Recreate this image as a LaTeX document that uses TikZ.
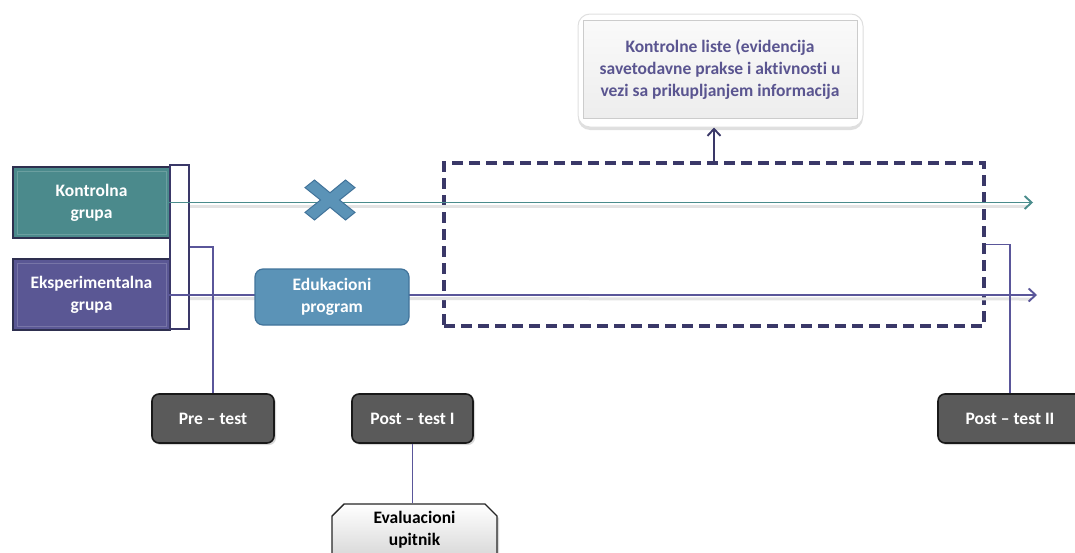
\documentclass[tikz,border=0pt]{standalone}
\usepackage{fontspec}
\setmainfont{Carlito}[Ligatures=NoCommon]
\usetikzlibrary{arrows.meta,shapes.misc,calc,shadows}
\definecolor{tealbox}{HTML}{4B8A8C}
\definecolor{purplebox}{HTML}{5A5794}
\definecolor{boxborder}{HTML}{2E2F4F}
\definecolor{edufill}{HTML}{5B93B7}
\definecolor{eduborder}{HTML}{41739A}
\definecolor{grayfill}{HTML}{5A5A5A}
\definecolor{navy}{HTML}{3A3868}
\definecolor{linepurple}{HTML}{5A569A}
\definecolor{lineteal}{HTML}{4A8C8C}
\definecolor{textpurple}{HTML}{5A5590}
\tikzset{
  x=1pt,y=-1pt,
  group/.style={draw=boxborder,line width=2pt,minimum width=157pt,minimum height=71pt,inner sep=0pt,
    text=white,font=\bfseries\fontsize{17.5}{22}\selectfont,align=center},
  testbox/.style={draw=black!90,line width=1.6pt,fill=grayfill,rounded corners=7pt,minimum height=49pt,
    inner sep=0pt,text=white,font=\bfseries\fontsize{17.5}{20}\selectfont,
    drop shadow={shadow xshift=2pt,shadow yshift=-2pt,opacity=0.3}},
  edubox/.style={draw=eduborder,line width=1.2pt,fill=edufill,rounded corners=8pt,minimum width=154pt,
    minimum height=56pt,inner sep=0pt,text=white,font=\bfseries\fontsize{17.5}{22}\selectfont,align=center},
  conn/.style={linepurple,line width=1.9pt},
  flowarrow/.style={line width=1.9pt,-{Straight Barb[length=7pt,width=13pt,line width=1.9pt]}},
  shadowline/.style={gray!22,line width=3pt},
}
\begin{document}
\begin{tikzpicture}
\useasboundingbox (0,0) rectangle (1075,552);
\clip (0,0) rectangle (1075,552);
% dashed box
\node[draw=navy,line width=3.2pt,dash pattern=on 11pt off 6pt,minimum width=540pt,minimum height=163pt,inner sep=0pt] (db) at (714,244.5) {};
% group boxes
\node[group,fill=tealbox] (kg) at (91.5,202.5) {Kontrolna\\grupa};
\node[group,fill=purplebox] (eg) at (91.5,294.5) {Eksperimentalna\\grupa};
% bevel hints
\draw[white,opacity=0.18,line width=1pt] ($(kg.south west)+(5,-5)$) rectangle ($(kg.north east)+(-5,5)$);
\draw[white,opacity=0.18,line width=1pt] ($(eg.south west)+(5,-5)$) rectangle ($(eg.north east)+(-5,5)$);
% end coordinates
\coordinate (tend) at (1033,202.5);
\coordinate (pend) at (1037,295);
% shadows of lines
\draw[shadowline] ($(kg.east)+(0,4)$) -- ($(tend)+(-6,4)$);
\draw[shadowline] ($(eg.east)+(0,4)$) -- ($(pend)+(-6,4)$);
% flow lines
\draw[flowarrow,lineteal] (kg.east) -- (tend);
\draw[flowarrow,linepurple] (eg.east |- pend) -- (pend);
% bracket
\node[draw=navy,fill=white,line width=1.6pt,minimum width=19pt,minimum height=164pt,inner sep=0pt] (br) at (179.5,247) {};
\draw[lineteal,line width=1.9pt] (br.west |- kg.east) -- (br.east |- kg.east);
\draw[linepurple,line width=1.9pt] (br.west |- pend) -- (br.east |- pend);
% X mark
\draw[eduborder,fill=edufill,line width=1pt,shift={(330,200)},xscale=25,yscale=20]
  (0,-0.36) -- (0.62,-1) -- (1,-0.62) -- (0.38,0) -- (1,0.62) -- (0.62,1) -- (0,0.36)
  -- (-0.62,1) -- (-1,0.62) -- (-0.38,0) -- (-1,-0.62) -- (-0.62,-1) -- cycle;
% education program
\node[edubox] (ep) at (332,297) {Edukacioni\\program};
% test boxes
\node[testbox,minimum width=122pt] (pre) at (213,418.5) {Pre – test};
\node[testbox,minimum width=121pt] (post1) at (412.5,418.5) {Post – test I};
\node[testbox,minimum width=144pt] (post2) at (1010,418.5) {Post – test II};
% evaluation questionnaire
\node[chamfered rectangle,chamfered rectangle corners={north west,north east},chamfered rectangle xsep=6pt,
  chamfered rectangle ysep=6pt,draw=black!85,line width=1.4pt,top color=white,bottom color=gray!30,
  minimum width=165pt,minimum height=52pt,inner sep=0pt,font=\bfseries\fontsize{17.5}{22}\selectfont,align=center,
  drop shadow={shadow xshift=2pt,shadow yshift=-2pt,opacity=0.3}] (ev) at (414.5,530) {Evaluacioni\\upitnik};
% connectors
\draw[conn] (br.east) -| (pre.north);
\draw[conn] (db.east) -| (post2.north);
\draw[conn] (post1.south) -- (post1.south |- ev.north);
% control list box
\node[draw=gray!25,line width=1pt,fill=white,rounded corners=12pt,minimum width=285pt,minimum height=113pt,inner sep=0pt,
  drop shadow={shadow xshift=0pt,shadow yshift=-3pt,opacity=0.25}] (kl) at (720.5,70.5) {};
\node[draw=gray!40,line width=0.8pt,top color=gray!4,bottom color=gray!14,minimum width=274pt,minimum height=98pt,inner sep=0pt,
  text=textpurple,font=\bfseries\fontsize{17.5}{22}\selectfont,align=center] (kli) at (720,69) {Kontrolne liste (evidencija\\savetodavne prakse i aktivnosti u\\vezi sa prikupljanjem informacija};
\draw[flowarrow,navy] (db.north) -- (db.north |- kl.south);
\end{tikzpicture}
\end{document}
